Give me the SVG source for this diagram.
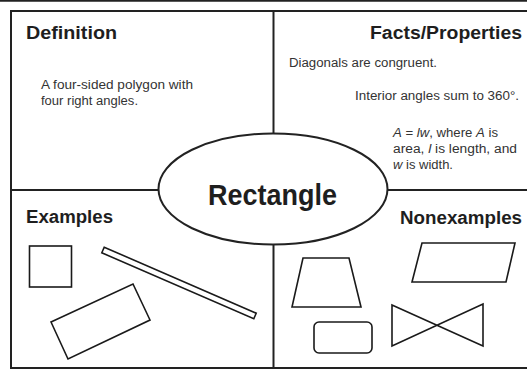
<svg xmlns="http://www.w3.org/2000/svg" width="527" height="370" viewBox="0 0 527 370">
<style>
.line{stroke:#222;stroke-width:2;fill:none}
.shape{stroke:#1a1a1a;stroke-width:1.6;fill:#fff;stroke-linejoin:miter}
.h{font-family:"Liberation Sans",Arial,sans-serif;font-weight:bold;font-size:18px;fill:#1e1e1e}
.t{font-family:"Liberation Sans",Arial,sans-serif;font-size:12px;fill:#333}
.i{font-style:italic}
</style>
<rect width="527" height="370" fill="#fff"/>
<g id="frame">
<line class="line" x1="0" y1="0.8" x2="527" y2="0.8" stroke-width="1.6"/>
<polyline class="line" points="527,11 11,11 11,368 527,368"/>
<line class="line" x1="273.5" y1="11" x2="273.5" y2="134"/>
<line class="line" x1="273.5" y1="244" x2="273.5" y2="368"/>
<line class="line" x1="11" y1="190" x2="159" y2="190"/>
<line class="line" x1="387" y1="190" x2="527" y2="190"/>
</g>
<g id="definition">
<text class="h" x="26" y="39" textLength="91" lengthAdjust="spacingAndGlyphs">Definition</text>
<text class="t" x="41" y="89" textLength="152" lengthAdjust="spacingAndGlyphs">A four-sided polygon with</text>
<text class="t" x="41" y="105" textLength="97" lengthAdjust="spacingAndGlyphs">four right angles.</text>
</g>
<g id="facts">
<text class="h" x="370" y="39" textLength="152" lengthAdjust="spacingAndGlyphs">Facts/Properties</text>
<text class="t" x="289" y="67" textLength="148" lengthAdjust="spacingAndGlyphs">Diagonals are congruent.</text>
<text class="t" x="355" y="100" textLength="164" lengthAdjust="spacingAndGlyphs">Interior angles sum to 360°.</text>
<text class="t" x="393" y="137" textLength="105" lengthAdjust="spacingAndGlyphs"><tspan class="i">A</tspan> = <tspan class="i">lw</tspan>, where <tspan class="i">A</tspan> is</text>
<text class="t" x="393" y="153" textLength="124" lengthAdjust="spacingAndGlyphs">area, <tspan class="i">l</tspan> is length, and</text>
<text class="t" x="393" y="169" textLength="60" lengthAdjust="spacingAndGlyphs"><tspan class="i">w</tspan> is width.</text>
</g>
<g id="examples">
<text class="h" x="26" y="223" textLength="87" lengthAdjust="spacingAndGlyphs">Examples</text>
<rect class="shape" x="29.5" y="246" width="42" height="41"/>
<polygon class="shape" points="104.2,247.2 256.2,313.2 253.8,318.8 101.8,252.8"/>
<polygon class="shape" points="51,322 133,284 150,320 68,359"/>
</g>
<g id="nonexamples">
<text class="h" x="400" y="224" textLength="122" lengthAdjust="spacingAndGlyphs">Nonexamples</text>
<polygon class="shape" points="303,258 349,258 361,307 292,307"/>
<polygon class="shape" points="422,243 515,243 506,282 412,282"/>
<rect class="shape" x="314" y="322" width="58" height="31" rx="5"/>
<polygon class="shape" points="392,305 483,346 483,304 392,346"/>
</g>
<g id="rectangle">
<ellipse class="line" cx="273" cy="189" rx="114.5" ry="55.5" fill="#fff"/>
<text class="h" x="208" y="205" font-size="30" style="font-size:30px" textLength="129" lengthAdjust="spacingAndGlyphs">Rectangle</text>
</g>
</svg>
